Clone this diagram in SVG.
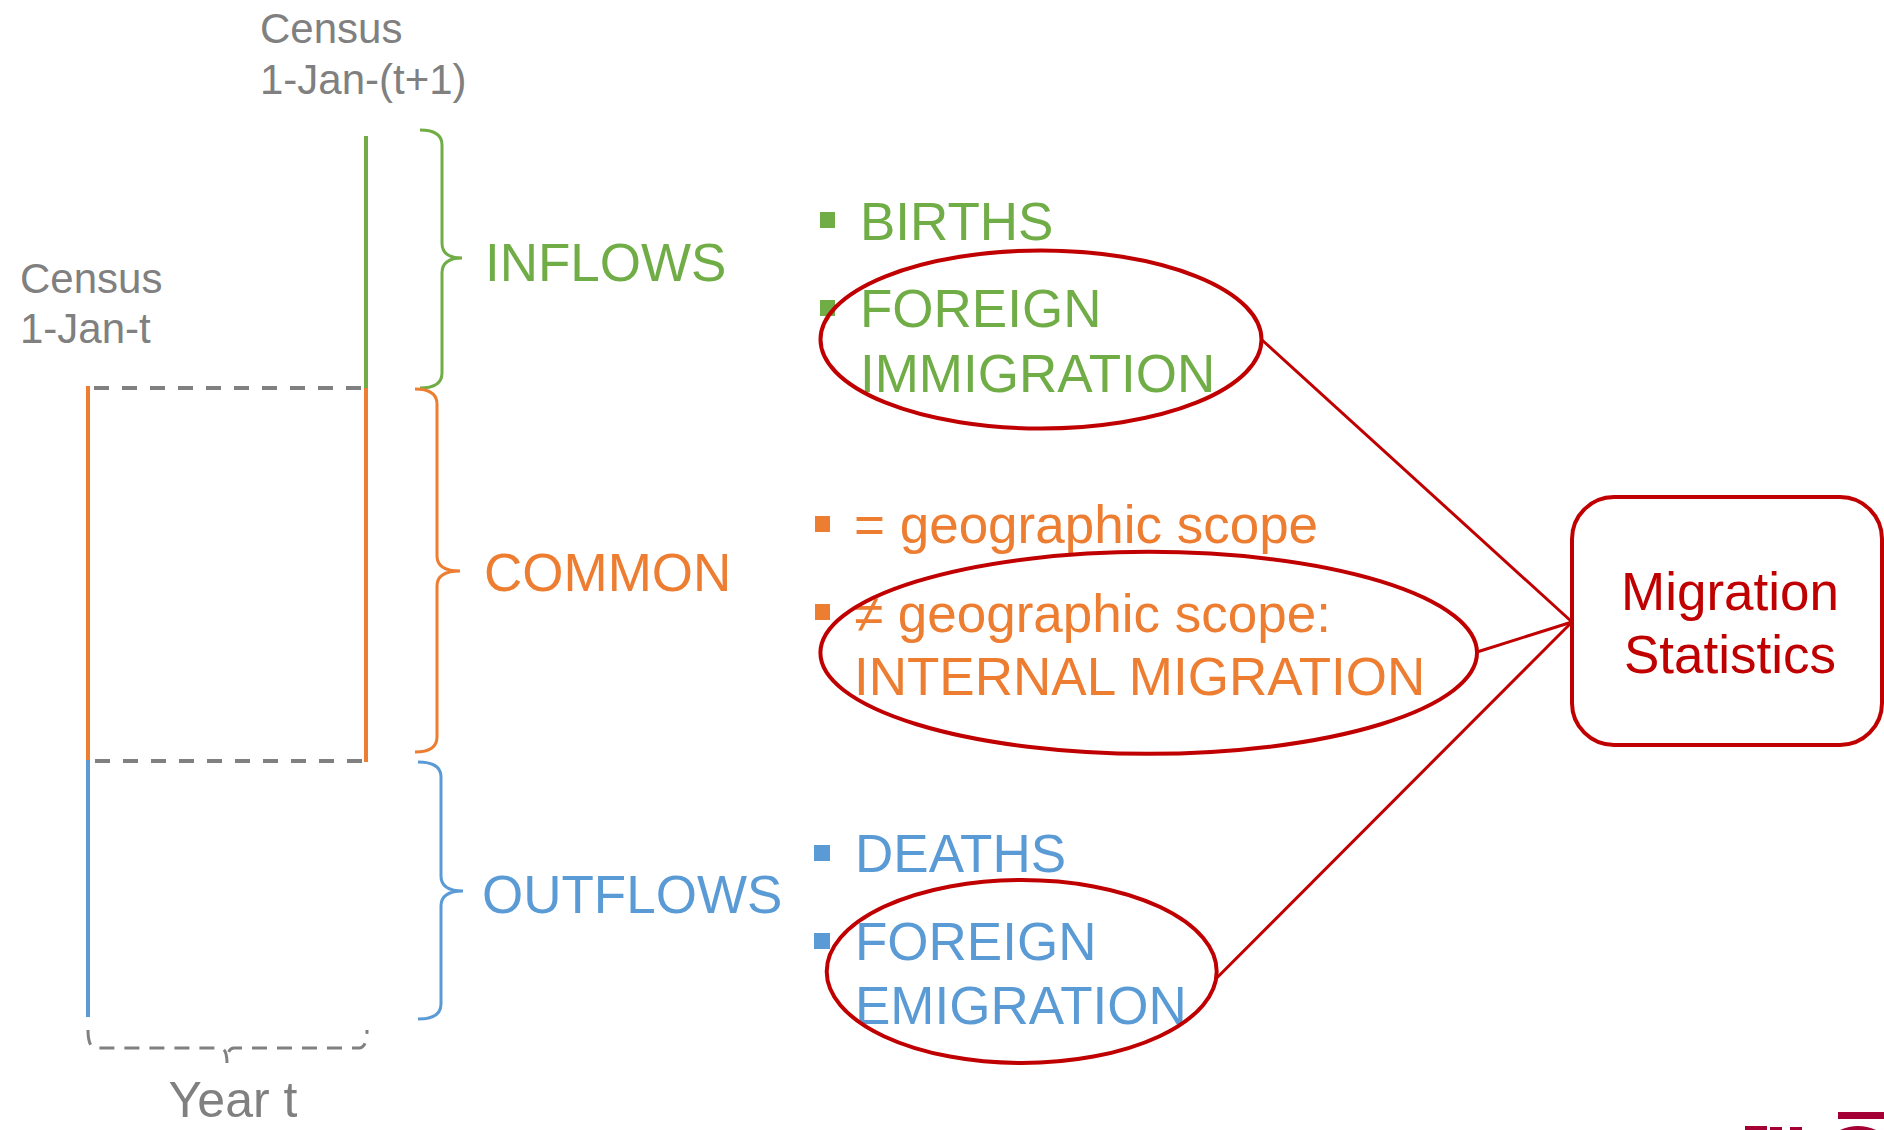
<svg xmlns="http://www.w3.org/2000/svg" width="1884" height="1130" viewBox="0 0 1884 1130">
<style>
text{font-family:"Liberation Sans",Arial,sans-serif}
.gray{fill:#808080}
.g{fill:#70AD47}
.o{fill:#ED7D31}
.b{fill:#5B9BD5}
.r{fill:#C00000}
.big{font-size:53px}
.cen{font-size:42px}
.dash{stroke:#808080;stroke-width:4;stroke-dasharray:15 13;fill:none}
.brace{fill:none;stroke-width:3}
.ell{fill:none;stroke:#C00000;stroke-width:4}
.conn{stroke:#C00000;stroke-width:3;fill:none}
</style>
<rect width="1884" height="1130" fill="#fff"/>
<g id="census-t1">
<text class="gray cen" x="260" y="43">Census</text>
<text class="gray cen" x="260" y="94">1-Jan-(t+1)</text>
</g>
<g id="census-t">
<text class="gray cen" x="20" y="293">Census</text>
<text class="gray cen" x="20" y="343">1-Jan-t</text>
</g>
<g id="timeline">
<line x1="366" y1="136" x2="366" y2="388" stroke="#70AD47" stroke-width="4"/>
<line x1="366" y1="388" x2="366" y2="762" stroke="#ED7D31" stroke-width="4"/>
<line x1="88" y1="386" x2="88" y2="760" stroke="#ED7D31" stroke-width="4"/>
<line x1="88" y1="760" x2="88" y2="1017" stroke="#5B9BD5" stroke-width="4"/>
<line class="dash" x1="94" y1="388" x2="362" y2="388"/>
<line class="dash" x1="95" y1="761" x2="363" y2="761"/>
</g>
<g id="year-bracket">
<path d="M88 1030 Q88 1048 96 1048 H220 Q227 1048 227 1063 Q227 1048 234 1048 H359 Q367 1048 367 1030" fill="none" stroke="#808080" stroke-width="3" stroke-dasharray="15 10"/>
<text class="gray" x="233" y="1117" font-size="50" text-anchor="middle">Year t</text>
</g>
<g id="inflows">
<path class="brace" stroke="#70AD47" d="M420 130 Q442 130 442 145 V243 Q442 258 462 258 Q442 258 442 273 V373 Q442 388 420 388"/>
<text class="g big" x="485" y="281">INFLOWS</text>
</g>
<g id="common">
<path class="brace" stroke="#ED7D31" d="M415 389 Q437 389 437 404 V556 Q437 571 460 571 Q437 571 437 586 V737 Q437 752 415 752"/>
<text class="o big" x="484" y="591">COMMON</text>
</g>
<g id="outflows">
<path class="brace" stroke="#5B9BD5" d="M418 762 Q441 762 441 777 V876 Q441 891 463 891 Q441 891 441 906 V1004 Q441 1019 418 1019"/>
<text class="b big" x="482" y="913">OUTFLOWS</text>
</g>
<g id="inflow-items">
<rect class="g" x="820" y="212" width="15" height="16"/>
<text class="g big" x="860" y="240">BIRTHS</text>
<rect class="g" x="820" y="300" width="15" height="16"/>
<text class="g big" x="860" y="327">FOREIGN</text>
<text class="g big" x="860" y="392">IMMIGRATION</text>
</g>
<g id="common-items">
<rect class="o" x="815" y="516" width="15" height="16"/>
<text class="o big" x="854" y="543">= geographic scope</text>
<rect class="o" x="815" y="604" width="15" height="16"/>
<text class="o big" x="854" y="632">≠ geographic scope:</text>
<text class="o big" x="854" y="695">INTERNAL MIGRATION</text>
</g>
<g id="outflow-items">
<rect class="b" x="814" y="845" width="16" height="16"/>
<text class="b big" x="855" y="872">DEATHS</text>
<rect class="b" x="814" y="933" width="16" height="16"/>
<text class="b big" x="855" y="960">FOREIGN</text>
<text class="b big" x="855" y="1024">EMIGRATION</text>
</g>
<g id="ellipse-immigration"><ellipse class="ell" cx="1041" cy="339.5" rx="220.5" ry="89"/></g>
<g id="ellipse-internal"><ellipse class="ell" cx="1148.7" cy="652.8" rx="328.3" ry="101"/></g>
<g id="ellipse-emigration"><ellipse class="ell" cx="1021.7" cy="971.5" rx="195" ry="91.5"/></g>
<g id="connectors">
<line class="conn" x1="1262" y1="340" x2="1572" y2="622"/>
<line class="conn" x1="1477" y1="652" x2="1572" y2="622"/>
<line class="conn" x1="1216.7" y1="978" x2="1572" y2="622"/>
</g>
<g id="migration-statistics">
<rect x="1572" y="497" width="310" height="248" rx="42" fill="#fff" stroke="#C00000" stroke-width="4"/>
<text class="r big" x="1730" y="610" text-anchor="middle">Migration</text>
<text class="r big" x="1730" y="673" text-anchor="middle">Statistics</text>
</g>
<g id="logo-fragment" fill="#A50034">
<rect x="1838" y="1112" width="46" height="7"/>
<rect x="1745" y="1126" width="22" height="4"/>
<rect x="1770" y="1127" width="12" height="3"/>
<rect x="1790" y="1127" width="12" height="3"/>
<path d="M1840 1130 Q1858 1122 1876 1130 Z"/>
</g>
</svg>
